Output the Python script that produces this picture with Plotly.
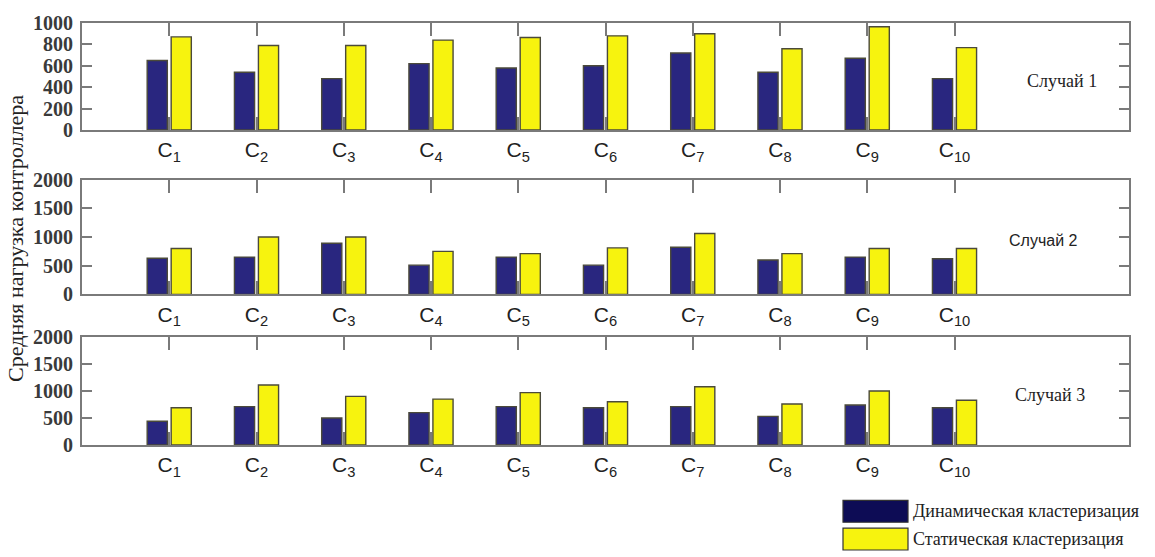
import plotly.graph_objects as go

# ---- data -------------------------------------------------------------
controllers = list(range(1, 11))
tick_labels = [f"C<sub>{i}</sub>" for i in controllers]

series_names = ["Динамическая кластеризация", "Статическая кластеризация"]
case_labels = ["Случай 1", "Случай 2", "Случай 3"]

dynamic_case1 = [650, 540, 480, 620, 580, 600, 720, 540, 670, 480]
static_case1 = [870, 790, 790, 840, 865, 880, 900, 760, 965, 770]

dynamic_case2 = [630, 650, 890, 510, 650, 510, 820, 600, 650, 620]
static_case2 = [800, 1000, 1000, 750, 710, 810, 1060, 710, 800, 800]

dynamic_case3 = [440, 710, 500, 600, 710, 690, 710, 530, 740, 690]
static_case3 = [690, 1110, 900, 850, 970, 800, 1080, 760, 1000, 830]

y_ticks_case1 = [0, 200, 400, 600, 800, 1000]
y_ticks_case23 = [0, 500, 1000, 1500, 2000]

# ---- styling ----------------------------------------------------------
BLUE = "#29267f"
YELLOW = "#f7f30e"
EDGE = "#4b4a3a"
FRAME = "#7a7a7a"
SERIF = "Liberation Serif"
SANS = "Liberation Sans"

W, H = 1155, 557
ML, MR, MT, MB = 82, 26, 19, 112
PW = W - ML - MR
PH = H - MT - MB


def px_x(px):
    return (px - ML) / PW


def px_y(py):
    return 1 - (py - MT) / PH


# vertical extent (in pixels) of each panel
panels = [(19, 127), (177, 293), (336, 445)]
cases = [
    (dynamic_case1, static_case1, [0, 1000], y_ticks_case1),
    (dynamic_case2, static_case2, [0, 2000], y_ticks_case23),
    (dynamic_case3, static_case3, [0, 2000], y_ticks_case23),
]

fig = go.Figure()
layout = {}

for k, ((dyn, sta, yr, yt), (top, bot)) in enumerate(zip(cases, panels), start=1):
    xa = "x" if k == 1 else f"x{k}"
    ya = "y" if k == 1 else f"y{k}"
    fig.add_trace(go.Bar(
        x=controllers, y=dyn, name=series_names[0], xaxis=xa, yaxis=ya,
        marker=dict(color=BLUE, line=dict(color=EDGE, width=1.4)),
        showlegend=False,
    ))
    fig.add_trace(go.Bar(
        x=controllers, y=sta, name=series_names[1], xaxis=xa, yaxis=ya,
        marker=dict(color=YELLOW, line=dict(color=EDGE, width=1.4)),
        showlegend=False,
    ))
    xkey = "xaxis" if k == 1 else f"xaxis{k}"
    ykey = "yaxis" if k == 1 else f"yaxis{k}"
    layout[xkey] = dict(
        domain=[0, 1], anchor=ya, range=[0, 12],
        tickmode="array", tickvals=controllers, ticktext=tick_labels,
        ticks="inside", ticklen=13, tickwidth=1.5, tickcolor=FRAME,
        showline=True, linecolor=FRAME, linewidth=2, mirror="ticks",
        showgrid=False, zeroline=False, ticklabelstandoff=0,
        tickfont=dict(family=SANS, size=21, color="#222222"),
    )
    layout[ykey] = dict(
        domain=[px_y(bot), px_y(top)], anchor=xa, range=yr,
        tickmode="array", tickvals=yt,
        ticks="inside", ticklen=10, tickwidth=1.5, tickcolor=FRAME,
        showline=True, linecolor=FRAME, linewidth=2, mirror="ticks",
        showgrid=False, zeroline=False, ticklabelstandoff=3,
        tickfont=dict(family=SERIF, size=20, weight="bold", color="#3a3a3a"),
    )

# case labels to the right of the bars
case_pos = [(1062, 78, SERIF, 18), (1043, 239, SANS, 16), (1050, 395, SERIF, 18)]
annotations = []
for label, (cx, cy, fam, fs) in zip(case_labels, case_pos):
    annotations.append(dict(
        text=label, x=px_x(cx), y=px_y(cy), xref="paper", yref="paper",
        showarrow=False, xanchor="center", yanchor="middle",
        font=dict(family=fam, size=fs, color="#222222"),
    ))

# shared y-axis title
annotations.append(dict(
    text="Средняя нагрузка контроллера", x=px_x(16), y=px_y(237),
    xref="paper", yref="paper", showarrow=False, textangle=-90,
    xanchor="center", yanchor="middle",
    font=dict(family=SERIF, size=22, color="#222222"),
))

# legend drawn as boxes with labels under the panels
legend_rows = [(series_names[0], "#0d0c55", 501, 523), (series_names[1], YELLOW, 529, 551)]
shapes = []
for name, color, y0, y1 in legend_rows:
    shapes.append(dict(
        type="rect", xref="paper", yref="paper",
        x0=px_x(843), x1=px_x(908), y0=px_y(y1), y1=px_y(y0),
        fillcolor=color, line=dict(color="#333333", width=1.2),
    ))
    annotations.append(dict(
        text=name, x=px_x(911), y=px_y((y0 + y1) / 2), xref="paper", yref="paper",
        showarrow=False, xanchor="left", yanchor="middle",
        font=dict(family=SERIF, size=18, color="#222222"),
    ))

fig.update_layout(
    width=W, height=H,
    margin=dict(l=ML, r=MR, t=MT, b=MB),
    paper_bgcolor="white", plot_bgcolor="white",
    barmode="group", bargap=0.45, bargroupgap=0.16,
    annotations=annotations, shapes=shapes,
    **layout,
)

fig.write_html("out.html")
